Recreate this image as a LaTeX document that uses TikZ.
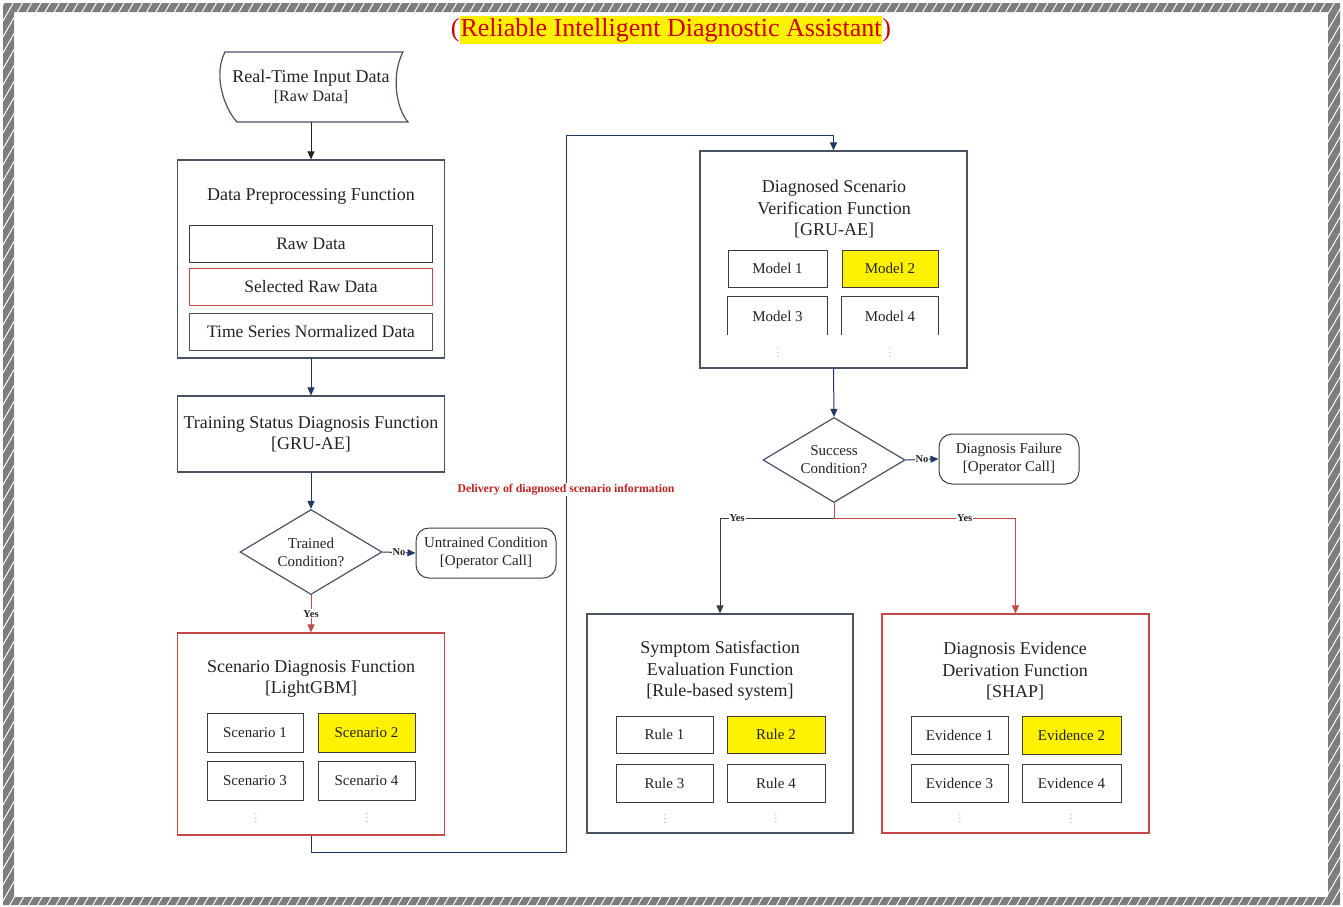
\documentclass[tikz,border=0pt]{standalone}
\usepackage{fontspec}
\setmainfont{Liberation Serif}
\usetikzlibrary{shapes.geometric,arrows.meta,patterns.meta}

\definecolor{navy}{RGB}{31,56,100}
\definecolor{boxc}{RGB}{72,82,100}
\definecolor{redc}{RGB}{196,72,72}
\definecolor{subc}{RGB}{60,60,60}
\definecolor{txt}{RGB}{35,35,35}
\definecolor{ttlred}{RGB}{205,0,0}
\definecolor{lblred}{RGB}{190,35,35}
\definecolor{hatch}{RGB}{125,125,125}

\begin{document}
\begin{tikzpicture}[x=1pt,y=-1pt,
  mainbox/.style={draw=boxc, line width=1.2pt, minimum width=267, inner sep=0},
  redbox/.style={draw=redc, line width=1.2pt, minimum width=267, inner sep=0},
  ttl/.style={font=\fontsize{18}{21.5}\selectfont, align=center, text=txt, inner sep=0},
  subbox/.style={draw=subc, line width=1pt, minimum height=37, inner sep=0,
                 text=txt, font=\fontsize{15}{17}\selectfont},
  prebox/.style={subbox, minimum width=243, font=\fontsize{17.5}{19}\selectfont},
  hlbox/.style={subbox, fill=yellow},
  vdots/.style={text=gray, font=\fontsize{9}{9}\selectfont, inner sep=0},
  arr/.style={-{Triangle[length=8pt,width=7pt]}, line width=1pt, draw=navy},
  redarr/.style={-{Triangle[length=8pt,width=7pt]}, line width=1pt, draw=redc},
  grayarr/.style={-{Triangle[length=8pt,width=7pt]}, line width=1pt, draw=subc},
  lbl/.style={font=\bfseries\fontsize{10.5}{12}\selectfont, fill=white, inner sep=1pt, text=txt},
  cond/.style={diamond, draw=boxc, line width=1.2pt, minimum width=142, minimum height=85,
               aspect=1.67, inner sep=0, align=center, text=txt, font=\fontsize{15}{18}\selectfont},
  callbox/.style={draw=subc, line width=1pt, rounded corners=13, minimum width=140, minimum height=50,
                  align=center, text=txt, font=\fontsize{15}{18.5}\selectfont, inner sep=0}
]
\useasboundingbox (0,0) rectangle (1343,906);

% hatched frame
\fill[hatch, even odd rule] (3,3) rectangle (1340,905) (14,12) rectangle (1328,897);
\fill[pattern={Lines[angle=60,distance=8pt,line width=1pt]}, pattern color=white, even odd rule]
  (3,3) rectangle (1340,905) (14,12) rectangle (1328,897);

% heading
\node[fill=yellow, text=ttlred, font=\fontsize{26}{30}\selectfont, inner xsep=0.5pt, inner ysep=2pt]
  (head) at (671,30) {Reliable Intelligent Diagnostic Assistant};
\node[text=ttlred, font=\fontsize{26}{30}\selectfont, inner sep=0, anchor=east] (lpar) at (head.west) {(};
\node[text=ttlred, font=\fontsize{26}{30}\selectfont, inner sep=0, anchor=west] (rpar) at (head.east) {)};

% real-time input (stored data symbol)
\draw[boxc, line width=1.2pt] (225,52) -- (403,52)
  .. controls (391,75) and (396,108) .. (408,122) -- (237,122)
  .. controls (224,108) and (213,75) .. (225,52) -- cycle;
\node[ttl, minimum width=182, minimum height=70] (inp) at (311,87)
  {Real-Time Input Data\\[-3pt]{\fontsize{16}{18}\selectfont [Raw Data]}};

% data preprocessing
\node[mainbox, minimum height=198] (pre) at (311,259) {};
\node[ttl] (pret) at (311,196) {Data Preprocessing Function};
\node[prebox] (raw) at (311,243.5) {Raw Data};
\node[prebox, draw=redc] (sel) at (311,286.5) {Selected Raw Data};
\node[prebox, draw=boxc] (tsn) at (311,331.5) {Time Series Normalized Data};

% training status diagnosis
\node[mainbox, minimum height=76, ttl] (trn) at (311,434)
  {Training Status Diagnosis Function\\{[GRU-AE]}};

% trained condition
\node[cond] (tc) at (311,552) {Trained\\Condition?};
\node[callbox] (utc) at (486,553) {Untrained Condition\\{[Operator Call]}};

% scenario diagnosis
\node[redbox, minimum height=202] (scn) at (311,734) {};
\node[ttl] (scnt) at (311,679) {Scenario Diagnosis Function\\{[LightGBM]}};
\node[subbox, minimum width=96, minimum height=39] (s1) at (255,732.5) {Scenario 1};
\node[hlbox, minimum width=97, minimum height=39] (s2) at (366.5,732.5) {Scenario 2};
\node[subbox, minimum width=96, minimum height=39] (s3) at (255,781) {Scenario 3};
\node[subbox, minimum width=97, minimum height=39] (s4) at (366.5,781) {Scenario 4};
\node[vdots] (sd1) at (256,815) {$\vdots$};
\node[vdots] (sd2) at (367,815) {$\vdots$};

% diagnosed scenario verification
\node[mainbox, minimum height=217] (dsv) at (833.5,259.5) {};
\node[ttl] (dsvt) at (834,209) {Diagnosed Scenario\\Verification Function\\{[GRU-AE]}};
\node[subbox, minimum width=99] (m1) at (777.5,268.5) {Model 1};
\node[hlbox, minimum width=96] (m2) at (890,268.5) {Model 2};
\node[inner sep=0, minimum width=99, minimum height=38, text=txt, font=\fontsize{15}{17}\selectfont] (m3) at (777.5,316) {Model 3};
\node[inner sep=0, minimum width=96, minimum height=38, text=txt, font=\fontsize{15}{17}\selectfont] (m4) at (890,316) {Model 4};
\draw[subc, line width=1pt] (m3.south west) -- (m3.north west) -- (m3.north east) -- (m3.south east);
\draw[subc, line width=1pt] (m4.south west) -- (m4.north west) -- (m4.north east) -- (m4.south east);
\node[vdots] (md1) at (778,350) {$\vdots$};
\node[vdots] (md2) at (890,350) {$\vdots$};

% success condition
\node[cond] (sc) at (834,460) {Success\\Condition?};
\node[callbox] (dfl) at (1009,459) {Diagnosis Failure\\{[Operator Call]}};
\coordinate (br) at (834,518);

% symptom satisfaction evaluation
\node[mainbox, minimum width=266, minimum height=219] (sse) at (720,723.5) {};
\node[ttl] (sset) at (720,671) {Symptom Satisfaction\\Evaluation Function\\{[Rule-based system]}};
\node[subbox, minimum width=97] (r1) at (664.5,734.5) {Rule 1};
\node[hlbox, minimum width=98] (r2) at (776,734.5) {Rule 2};
\node[subbox, minimum width=97, minimum height=38] (r3) at (664.5,783) {Rule 3};
\node[subbox, minimum width=98, minimum height=38] (r4) at (776,783) {Rule 4};
\node[vdots] (rd1) at (665,816) {$\vdots$};
\node[vdots] (rd2) at (776,816) {$\vdots$};

% diagnosis evidence derivation
\node[redbox, minimum height=219] (ede) at (1015.5,723.5) {};
\node[ttl] (edet) at (1015,671) {Diagnosis Evidence\\Derivation Function\\{[SHAP]}};
\node[subbox, minimum width=97, minimum height=38] (e1) at (959.5,735) {Evidence 1};
\node[hlbox, minimum width=99, minimum height=38] (e2) at (1071.5,735) {Evidence 2};
\node[subbox, minimum width=97, minimum height=38] (e3) at (959.5,783) {Evidence 3};
\node[subbox, minimum width=99, minimum height=38] (e4) at (1071.5,783) {Evidence 4};
\node[vdots] (ed1) at (960,816) {$\vdots$};
\node[vdots] (ed2) at (1071,816) {$\vdots$};

% connectors
\draw[arr, draw=txt] (inp.south) -- (pre.north);
\draw[arr] (pre.south) -- (trn.north);
\draw[arr] (trn.south) -- (tc.north);
\draw[arr] (tc.east) -- node[lbl] {No} (utc.west);
\draw[redarr] (tc.south) -- node[lbl, pos=0.5] {Yes} (scn.north);

\coordinate (c1) at (566,852);
\coordinate (c2) at (566,135);
\draw[arr] (scn.south) |- (c1) -- node[lbl, text=lblred, pos=0.506, font=\bfseries\fontsize{11.8}{13}\selectfont, inner xsep=2pt] {Delivery of diagnosed scenario information} (c2) -| (dsv.north);

\draw[arr] (dsv.south) -- (sc.north);
\draw[arr] (sc.east) -- node[lbl] {No} (dfl.west);
\draw[redc, line width=1pt] (sc.south) -- (br);
\draw[grayarr] (br) -| node[lbl, pos=0.425] {Yes} (sse.north);
\draw[redarr] (br) -| node[lbl, pos=0.36] {Yes} (ede.north);
\end{tikzpicture}
\end{document}
